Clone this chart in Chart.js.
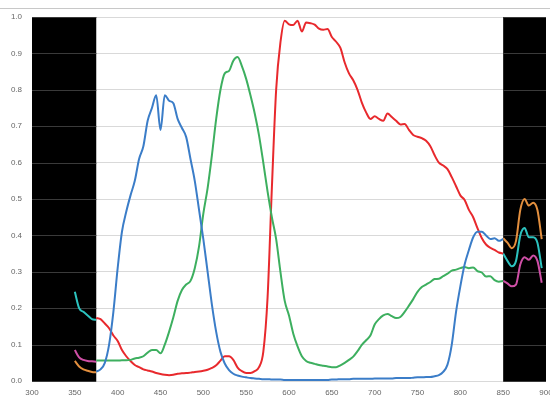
<!DOCTYPE html>
<html lang="en">

<head>
    <meta charset="UTF-8">
    <title>Spectral Response</title>
    <style>
        body {
            margin: 0;
            overflow: hidden;
            background: #fff;
        }

        .chart-box {
            width: 560px;
            height: 397px;
        }
    </style>
</head>

<body>
    <div class="chart-box">
        <canvas id="spectrumChart"></canvas>
    </div>
    <script src="https://cdn.jsdelivr.net/npm/chart.js"></script>
    <script>
        // wavelengths (nm) for the three main channels
        const wavelengths = [375, 380, 385, 390, 395, 400, 405, 410, 415, 420, 425, 430, 435, 440, 445, 450, 455, 460, 465, 470,
            475, 480, 485, 490, 495, 500, 505, 510, 515, 520, 525, 530, 535, 540, 545, 550, 555, 560, 565, 570,
            575, 580, 585, 590, 595, 600, 605, 610, 615, 620, 625, 630, 635, 640, 645, 650, 655, 660, 665, 670,
            675, 680, 685, 690, 695, 700, 705, 710, 715, 720, 725, 730, 735, 740, 745, 750, 755, 760, 765, 770,
            775, 780, 785, 790, 795, 800, 805, 810, 815, 820, 825, 830, 835, 840, 845, 850];

        const blueValues = [0.026, 0.032, 0.05, 0.10, 0.19, 0.31, 0.41, 0.465, 0.51, 0.55, 0.61, 0.645, 0.715, 0.75, 0.785, 0.69, 0.785, 0.77, 0.763, 0.72,
            0.695, 0.67, 0.61, 0.55, 0.47, 0.39, 0.30, 0.21, 0.135, 0.08, 0.048, 0.03, 0.02, 0.015, 0.012, 0.01, 0.008, 0.007, 0.006, 0.005,
            0.005, 0.004, 0.004, 0.004, 0.003, 0.003, 0.003, 0.003, 0.003, 0.003, 0.003, 0.003, 0.003, 0.003, 0.003, 0.004, 0.004, 0.005, 0.005, 0.005,
            0.006, 0.006, 0.006, 0.006, 0.006, 0.007, 0.007, 0.007, 0.007, 0.007, 0.008, 0.008, 0.008, 0.008, 0.009, 0.01, 0.01, 0.011, 0.011, 0.013,
            0.016, 0.025, 0.045, 0.10, 0.19, 0.26, 0.32, 0.36, 0.395, 0.41, 0.41, 0.40, 0.39, 0.392, 0.385, 0.39];

        const greenValues = [0.056, 0.056, 0.056, 0.056, 0.056, 0.056, 0.057, 0.057, 0.058, 0.062, 0.064, 0.068, 0.078, 0.085, 0.085, 0.076, 0.10, 0.135, 0.175, 0.22,
            0.25, 0.265, 0.275, 0.31, 0.37, 0.46, 0.53, 0.62, 0.72, 0.80, 0.845, 0.852, 0.88, 0.89, 0.865, 0.83, 0.785, 0.735, 0.675, 0.60,
            0.52, 0.45, 0.39, 0.30, 0.22, 0.18, 0.13, 0.095, 0.068, 0.055, 0.05, 0.047, 0.044, 0.042, 0.04, 0.038, 0.038, 0.043, 0.05, 0.058,
            0.067, 0.082, 0.099, 0.112, 0.125, 0.155, 0.17, 0.18, 0.184, 0.178, 0.173, 0.176, 0.19, 0.207, 0.225, 0.245, 0.258, 0.265, 0.272, 0.28,
            0.281, 0.288, 0.295, 0.303, 0.306, 0.31, 0.313, 0.31, 0.312, 0.302, 0.298, 0.287, 0.288, 0.277, 0.273, 0.275];

        const redValues = [0.173, 0.170, 0.158, 0.145, 0.125, 0.11, 0.085, 0.068, 0.055, 0.044, 0.038, 0.032, 0.029, 0.026, 0.022, 0.019, 0.017, 0.016, 0.017, 0.02,
            0.021, 0.022, 0.023, 0.025, 0.026, 0.028, 0.031, 0.036, 0.043, 0.056, 0.068, 0.068, 0.058, 0.037, 0.027, 0.022, 0.022, 0.027, 0.038, 0.08,
            0.23, 0.53, 0.80, 0.93, 0.99, 0.98, 0.978, 0.99, 0.96, 0.985, 0.983, 0.979, 0.968, 0.965, 0.967, 0.945, 0.932, 0.915, 0.875, 0.845,
            0.826, 0.80, 0.765, 0.738, 0.72, 0.727, 0.72, 0.715, 0.735, 0.725, 0.715, 0.705, 0.706, 0.69, 0.676, 0.671, 0.667, 0.66, 0.645, 0.62,
            0.60, 0.592, 0.582, 0.56, 0.535, 0.51, 0.497, 0.47, 0.45, 0.42, 0.393, 0.375, 0.366, 0.36, 0.353, 0.35];

        // the extra channels only exist inside the two blacked-out bands
        const edgeWavelengths = [350, 355, 360, 365, 370, 375, 850, 855, 860, 865, 870, 875, 880, 885, 890, 895];
        const cyanValues = [0.245, 0.20, 0.19, 0.18, 0.17, 0.168, 0.35, 0.33, 0.315, 0.33, 0.40, 0.42, 0.395, 0.395, 0.38, 0.31];
        const magentaValues = [0.085, 0.065, 0.058, 0.055, 0.054, 0.053, 0.275, 0.268, 0.26, 0.265, 0.32, 0.34, 0.333, 0.345, 0.33, 0.27];
        const orangeValues = [0.055, 0.04, 0.032, 0.028, 0.025, 0.024, 0.392, 0.38, 0.365, 0.385, 0.47, 0.50, 0.482, 0.49, 0.47, 0.39];

        // blacked-out wavelength bands
        const blockedBands = [[300, 375], [850, 900]];

        const xTicks = [300, 350, 400, 450, 500, 550, 600, 650, 700, 750, 800, 850, 900];
        const yTicks = [0, 0.1, 0.2, 0.3, 0.4, 0.5, 0.6, 0.7, 0.8, 0.9, 1.0];

        function toPoints(xs, ys) {
            const pts = [];
            for (let i = 0; i < xs.length; i++) {
                // break the line across the open middle of the spectrum
                if (i > 0 && xs[i] - xs[i - 1] > 10) {
                    pts.push({ x: (xs[i] + xs[i - 1]) / 2, y: null });
                }
                pts.push({ x: xs[i], y: ys[i] });
            }
            return pts;
        }

        function makeLine(label, xs, ys, color) {
            return {
                label: label,
                data: toPoints(xs, ys),
                borderColor: color,
                backgroundColor: color,
                borderWidth: 2,
                pointRadius: 0,
                fill: false,
                spanGaps: false,
                cubicInterpolationMode: 'monotone',
            };
        }

        const bandPlugin = {
            id: 'bands',
            beforeDatasetsDraw(chart) {
                const { ctx, chartArea, scales } = chart;
                ctx.save();
                blockedBands.forEach(([a, b]) => {
                    const x0 = scales.x.getPixelForValue(a);
                    const x1 = scales.x.getPixelForValue(b);
                    ctx.fillStyle = '#000';
                    ctx.fillRect(x0, chartArea.top, x1 - x0, chartArea.bottom - chartArea.top);
                    // faint grid showing through the black
                    ctx.strokeStyle = '#3a3a3a';
                    ctx.lineWidth = 1;
                    yTicks.forEach(t => {
                        const y = Math.round(scales.y.getPixelForValue(t)) + 0.5;
                        ctx.beginPath();
                        ctx.moveTo(x0, y);
                        ctx.lineTo(x1, y);
                        ctx.stroke();
                    });
                });
                ctx.restore();
            },
            afterDraw(chart) {
                // thin frame line along the top of the picture
                const ctx = chart.ctx;
                ctx.save();
                ctx.strokeStyle = '#c8c8c8';
                ctx.lineWidth = 1;
                ctx.beginPath();
                ctx.moveTo(0, 8.5);
                ctx.lineTo(chart.width, 8.5);
                ctx.stroke();
                ctx.restore();
            },
        };

        const tickFont = { family: 'Liberation Sans, Arial, sans-serif', size: 8 };

        new Chart(document.getElementById('spectrumChart'), {
            type: 'line',
            data: {
                datasets: [
                    makeLine('Blue', wavelengths, blueValues, '#3b7dc8'),
                    makeLine('Green', wavelengths, greenValues, '#3daf5f'),
                    makeLine('Red', wavelengths, redValues, '#e8292d'),
                    makeLine('Orange', edgeWavelengths, orangeValues, '#e38f3e'),
                    makeLine('Cyan', edgeWavelengths, cyanValues, '#2cc3bf'),
                    makeLine('Magenta', edgeWavelengths, magentaValues, '#cf4fa6'),
                ],
            },
            options: {
                animation: false,
                responsive: true,
                maintainAspectRatio: false,
                layout: {
                    padding: { top: 17, right: 14, left: 0, bottom: 0 },
                },
                plugins: {
                    legend: { display: false },
                    tooltip: { enabled: false },
                },
                scales: {
                    x: {
                        type: 'linear',
                        min: 300,
                        max: 900,
                        afterBuildTicks: (scale) => {
                            scale.ticks = xTicks.map(v => ({ value: v }));
                        },
                        afterFit: (scale) => { scale.height = 16; },
                        grid: { display: false, drawTicks: false },
                        border: { display: false },
                        ticks: {
                            padding: 7,
                            maxRotation: 0,
                            autoSkip: false,
                            color: '#666',
                            font: tickFont,
                        },
                    },
                    y: {
                        min: 0,
                        max: 1,
                        afterBuildTicks: (scale) => {
                            scale.ticks = yTicks.map(v => ({ value: v }));
                        },
                        afterFit: (scale) => { scale.width = 32; },
                        grid: { color: '#d9d9d9', drawTicks: false },
                        border: { display: false },
                        ticks: {
                            padding: 10,
                            color: '#666',
                            font: tickFont,
                            callback: (v) => v.toFixed(1),
                        },
                    },
                },
            },
            plugins: [bandPlugin],
        });
    </script>
</body>

</html>
